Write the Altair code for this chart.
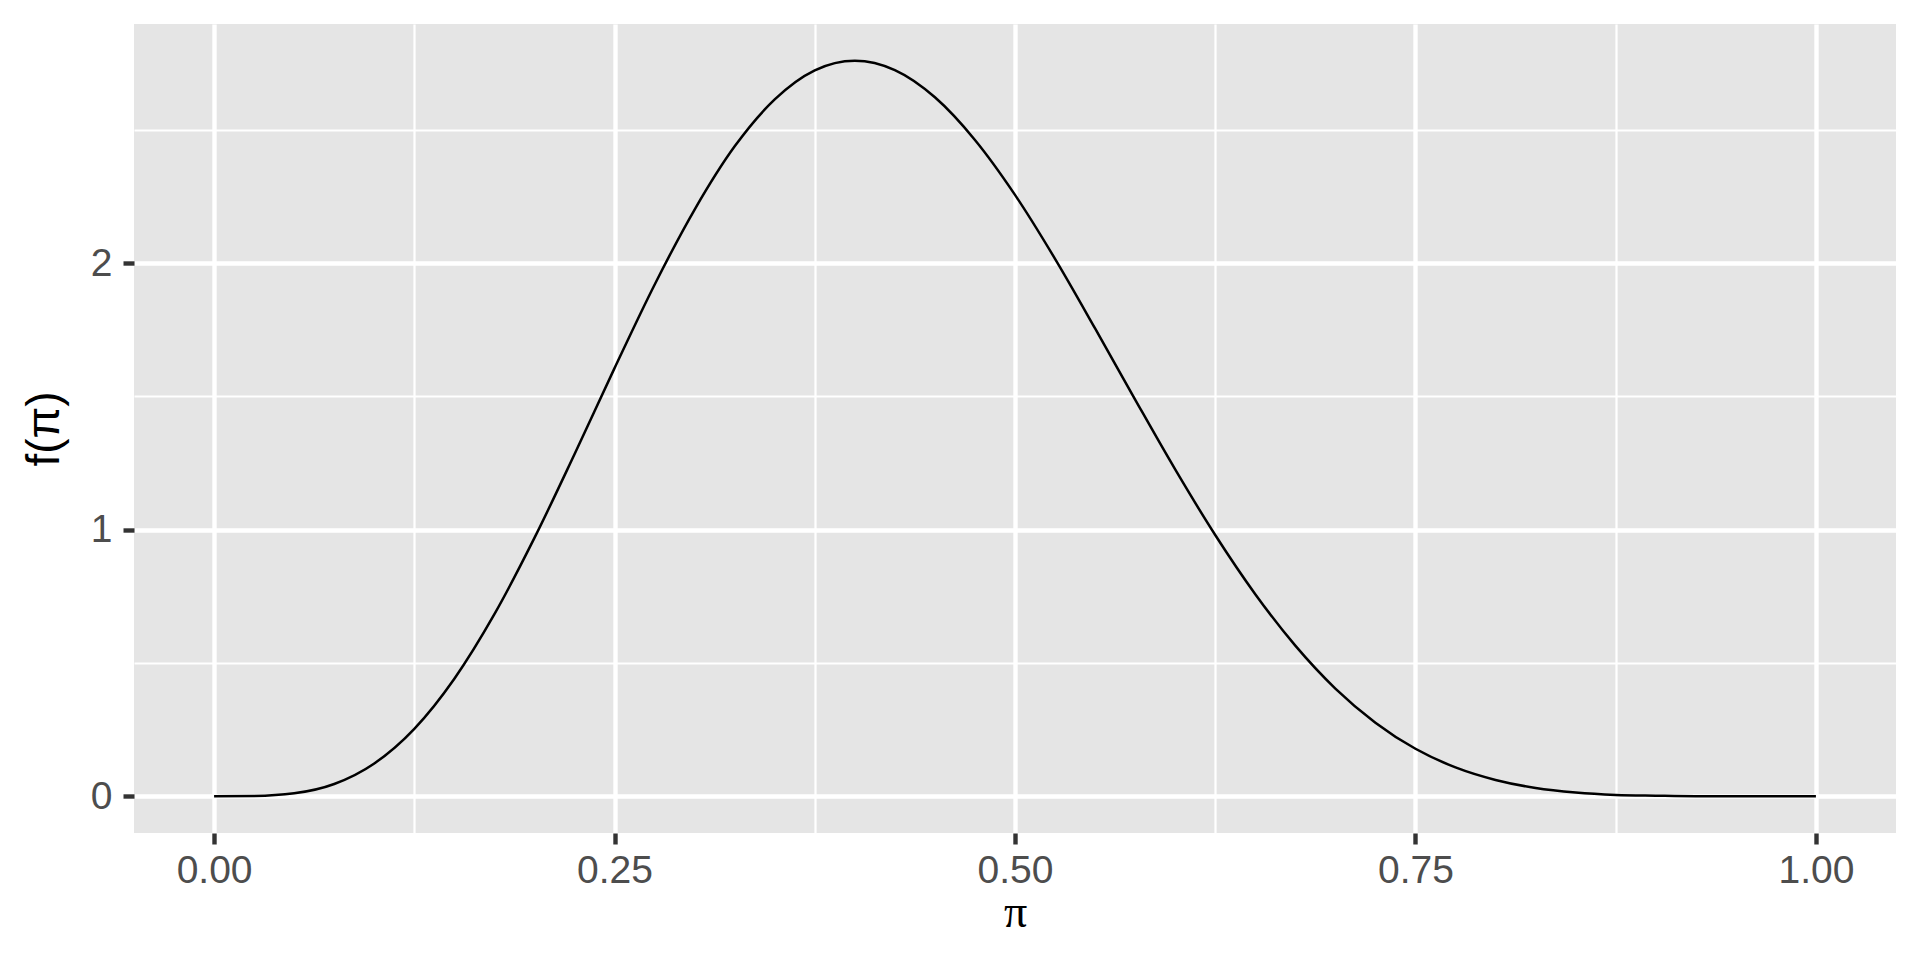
import altair as alt
import pandas as pd

# Density curve values (peak near pi = 0.4, f ~ 2.76)
pi_vals = [0.000, 0.025, 0.050, 0.075, 0.100, 0.125, 0.150, 0.175, 0.200, 0.225,
           0.250, 0.275, 0.300, 0.325, 0.350, 0.375, 0.400, 0.425, 0.450, 0.475,
           0.500, 0.525, 0.550, 0.575, 0.600, 0.625, 0.650, 0.675, 0.700, 0.725,
           0.750, 0.775, 0.800, 0.825, 0.850, 0.875, 0.900, 0.925, 0.950, 0.975, 1.000]
f_vals = [0.000, 0.001, 0.011, 0.046, 0.123, 0.253, 0.441, 0.683, 0.969, 1.283,
          1.606, 1.919, 2.201, 2.438, 2.614, 2.723, 2.759, 2.724, 2.622, 2.462,
          2.256, 2.016, 1.755, 1.488, 1.226, 0.980, 0.758, 0.565, 0.404, 0.276,
          0.178, 0.108, 0.061, 0.031, 0.014, 0.005, 0.002, 0.000, 0.000, 0.000, 0.000]

x_major = [0, 0.25, 0.5, 0.75, 1.0]
x_minor = [0.125, 0.375, 0.625, 0.875]
y_major = [0, 1, 2]
y_minor = [0.5, 1.5, 2.5]

df = pd.DataFrame({"pi": pi_vals, "f": f_vals})

x_scale = alt.Scale(domain=[-0.05, 1.05], nice=False, zero=False)
y_scale = alt.Scale(domain=[-0.138, 2.897], nice=False, zero=False)

W, H = 1762, 809

minor = alt.Chart(df).mark_line(strokeOpacity=0).encode(
    x=alt.X("pi:Q", scale=x_scale,
            axis=alt.Axis(orient="top", values=x_minor, labels=False, ticks=False,
                          domain=False, title=None, grid=True, gridColor="white",
                          gridWidth=2.2)),
    y=alt.Y("f:Q", scale=y_scale,
            axis=alt.Axis(orient="right", values=y_minor, labels=False, ticks=False,
                          domain=False, title=None, grid=True, gridColor="white",
                          gridWidth=2.2)),
)

main = alt.Chart(df).mark_line(color="black", strokeWidth=2.5, interpolate="monotone").encode(
    x=alt.X("pi:Q", scale=x_scale,
            axis=alt.Axis(orient="bottom", values=x_major, format=".2f", title="π",
                          domain=False, grid=True, gridColor="white", gridWidth=4.4,
                          ticks=True, tickColor="#333333", tickWidth=4.4, tickSize=11,
                          labelFont="Liberation Sans", labelFontSize=39,
                          labelColor="#4D4D4D", labelPadding=38,
                          labelBaseline="alphabetic",
                          titleFont="Liberation Serif", titleFontSize=46,
                          titleFontWeight="normal", titleColor="black",
                          titleBaseline="alphabetic", titleY=93, titleX=W / 2)),
    y=alt.Y("f:Q", scale=y_scale,
            axis=alt.Axis(orient="left", values=y_major, format="d", title="f(π)",
                          domain=False, grid=True, gridColor="white", gridWidth=4.4,
                          ticks=True, tickColor="#333333", tickWidth=4.4, tickSize=11,
                          labelFont="Liberation Sans", labelFontSize=39,
                          labelColor="#4D4D4D", labelPadding=11,
                          titleFont="Liberation Sans", titleFontSize=46,
                          titleFontWeight="normal", titleColor="black",
                          titleAngle=270, titleBaseline="alphabetic",
                          titleX=-76, titleY=H / 2)),
)

chart = alt.layer(minor, main).resolve_axis(x="independent", y="independent").properties(
    width=W, height=H,
    autosize=alt.AutoSizeParams(type="none"),
    padding={"left": 126, "top": 16, "right": 16, "bottom": 110},
    background="white",
).configure_view(fill="#E5E5E5", stroke=None)

chart.save("out.html", embed_options={"renderer": "svg", "actions": False})
